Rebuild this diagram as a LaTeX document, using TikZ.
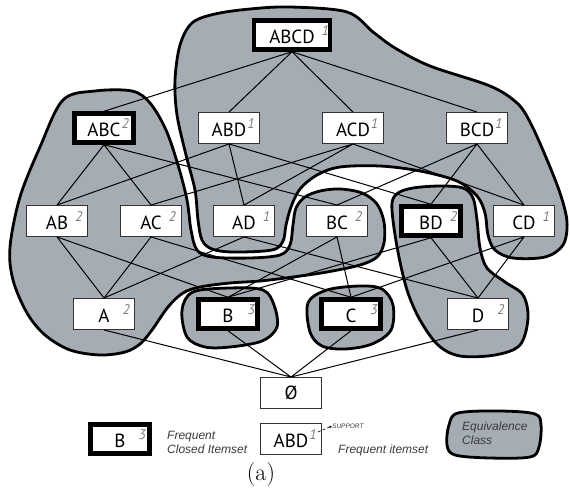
\documentclass[tikz,border=0pt]{standalone}
\usepackage{fontspec}
\usepackage{xcolor}
\usepackage{tikz}
\usetikzlibrary{arrows.meta}
\newfontfamily\itemfont{PT Sans}
\newfontfamily\legendfont{Liberation Sans}
\definecolor{classgray}{HTML}{A6ACB4}
\definecolor{supgray}{HTML}{7C7C7C}
\definecolor{boxline}{HTML}{333333}
\definecolor{legtext}{HTML}{3A3A3A}
\tikzset{
  itemBox/.style={draw=boxline, fill=white, line width=0.9pt, minimum width=61pt, minimum height=31pt, inner sep=0pt, font=\itemfont\fontsize{19}{19}\selectfont},
  closedBox/.style={itemBox, draw=black, line width=4.5pt, minimum width=59pt, minimum height=29pt},
  latEdge/.style={draw=black, line width=1pt},
  eqBlob/.style={draw=black, fill=classgray, line width=2.8pt, line join=round},
  legLbl/.style={text=legtext, font=\legendfont\itshape\fontsize{12}{14}\selectfont, align=left, inner sep=0pt},
}
\newcommand{\suptxt}[1]{\raisebox{8pt}{\fontsize{14}{14}\selectfont\itshape\color{supgray}#1}}
\newcommand{\itemlbl}[3]{#1\rlap{\hspace{#3}\suptxt{#2}}}

\begin{document}
\begin{tikzpicture}[x=1pt, y=-1pt]
  \useasboundingbox (0,0) rectangle (570,489);

  % equivalence classes
  \draw[eqBlob] plot[smooth cycle, tension=0.55] coordinates {
    (290,7) (347,12) (373,32) (395,48) (430,66) (490,86) (517,103) (530,122)
    (545,155) (560,193) (567,222) (563,245) (545,257) (513,258) (495,250)
    (488,235) (485,213) (477,196) (457,181) (420,171) (380,166) (340,167)
    (317,175) (300,189) (291,207) (286,225) (283,241) (272,250) (233,252)
    (212,249) (202,240) (198,220) (195,190) (186,155) (177,115) (175,80)
    (180,45) (192,23) (215,14) (250,9)};
  \draw[eqBlob] plot[smooth cycle, tension=0.55] coordinates {
    (63,100) (95,91) (132,91) (150,103) (166,130) (178,165) (187,200)
    (191,230) (197,250) (212,257) (250,258) (280,255) (290,245) (293,225)
    (296,208) (305,197) (320,191) (340,189) (362,193) (377,204) (384,222)
    (384,243) (377,257) (360,265) (327,272) (293,277) (260,281) (230,283)
    (200,287) (183,293) (168,307) (152,330) (140,344) (125,352) (100,355)
    (70,350) (45,335) (27,313) (13,280) (10,247) (20,197) (40,147)};
  \draw[eqBlob] plot[smooth cycle, tension=0.55] coordinates {
    (392,203) (398,193) (413,188) (440,186) (463,188) (473,198) (477,220)
    (480,248) (487,268) (505,282) (523,295) (528,318) (520,345) (495,355)
    (460,356) (438,345) (420,320) (408,293) (400,262) (394,228)};
  \draw[eqBlob] plot[smooth cycle, tension=0.55] coordinates {
    (182,310) (193,292) (230,288) (263,290) (274,305) (277,327) (262,341)
    (230,347) (205,347) (187,337)};
  \draw[eqBlob] plot[smooth cycle, tension=0.55] coordinates {
    (308,303) (327,290) (360,286) (382,289) (393,305) (391,330) (372,344)
    (345,349) (322,346) (310,332)};

  % itemsets
  \node[closedBox, minimum width=76pt] (ABCD) at (292,35) {\itemlbl{ABCD}{1}{7pt}};

  \node[closedBox] (ABC) at (104,128) {\itemlbl{ABC}{2}{1pt}};
  \node[itemBox]   (ABD) at (229,128) {\itemlbl{ABD}{1}{1pt}};
  \node[itemBox]   (ACD) at (353,128) {\itemlbl{ACD}{1}{1pt}};
  \node[itemBox]   (BCD) at (477,128) {\itemlbl{BCD}{1}{1pt}};

  \node[itemBox]   (AB) at (57,221)  {\itemlbl{AB}{2}{7pt}};
  \node[itemBox]   (AC) at (151,221) {\itemlbl{AC}{2}{7pt}};
  \node[itemBox]   (AD) at (244,221) {\itemlbl{AD}{1}{7pt}};
  \node[itemBox]   (BC) at (337,221) {\itemlbl{BC}{2}{7pt}};
  \node[closedBox] (BD) at (431,221) {\itemlbl{BD}{2}{7pt}};
  \node[itemBox]   (CD) at (524,221) {\itemlbl{CD}{1}{7pt}};

  \node[itemBox]   (A) at (104,314) {\itemlbl{A}{2}{13pt}};
  \node[closedBox] (B) at (228,314) {\itemlbl{B}{3}{14pt}};
  \node[closedBox] (C) at (351,314) {\itemlbl{C}{3}{14pt}};
  \node[itemBox]   (D) at (478,314) {\itemlbl{D}{2}{13pt}};

  \node[itemBox] (empty) at (291,393) {Ø};

  % lattice edges
  \draw[latEdge] (ABCD.south) -- (ABC.north) (ABCD.south) -- (ABD.north)
                 (ABCD.south) -- (ACD.north) (ABCD.south) -- (BCD.north);
  \draw[latEdge] (ABC.south) -- (AB.north) (ABC.south) -- (AC.north) (ABC.south) -- (BC.north);
  \draw[latEdge] (ABD.south) -- (AB.north) (ABD.south) -- (AD.north) (ABD.south) -- (BD.north);
  \draw[latEdge] (ACD.south) -- (AC.north) (ACD.south) -- (AD.north) (ACD.south) -- (CD.north);
  \draw[latEdge] (BCD.south) -- (BC.north) (BCD.south) -- (BD.north) (BCD.south) -- (CD.north);
  \draw[latEdge] (AB.south) -- (A.north) (AB.south) -- (B.north);
  \draw[latEdge] (AC.south) -- (A.north) (AC.south) -- (C.north);
  \draw[latEdge] (AD.south) -- (A.north) (AD.south) -- (D.north);
  \draw[latEdge] (BC.south) -- (B.north) (BC.south) -- (C.north);
  \draw[latEdge] (BD.south) -- (B.north) (BD.south) -- (D.north);
  \draw[latEdge] (CD.south) -- (C.north) (CD.south) -- (D.north);
  \draw[latEdge] (A.south) -- (empty.north) (B.south) -- (empty.north)
                 (C.south) -- (empty.north) (D.south) -- (empty.north);

  % legend
  \node[closedBox] (legClosed) at (120,439) {\itemlbl{B}{3}{13pt}};
  \node[legLbl, anchor=west] (legClosedTxt) at (167,442) {Frequent\\Closed Itemset};
  \node[itemBox] (legFreq) at (291,439) {\itemlbl{ABD}{1}{1pt}};
  \node[legLbl, anchor=west] (legFreqTxt) at (338,450) {Frequent itemset};
  \node[legLbl, anchor=west, font=\legendfont\itshape\fontsize{6.5}{7}\selectfont] (supLbl) at (332,426) {SUPPORT};
  \coordinate (supTip) at (318,432);
  \draw[densely dashed, line width=0.6pt, -{Latex[length=2.5pt,width=2.5pt]}] (supTip) -- (supLbl.west);
  \draw[eqBlob] plot[smooth cycle, tension=0.55] coordinates {
    (449,425) (458,413) (500,411) (535,414) (541,425) (539,447) (530,457)
    (490,458) (455,455) (447,445)};
  \node[legLbl, anchor=west] (legClassTxt) at (462,433) {Equivalence\\Class};

  \node[font=\fontsize{24}{26}\selectfont, inner sep=0pt] (caption) at (261,475) {(a)};
\end{tikzpicture}
\end{document}
